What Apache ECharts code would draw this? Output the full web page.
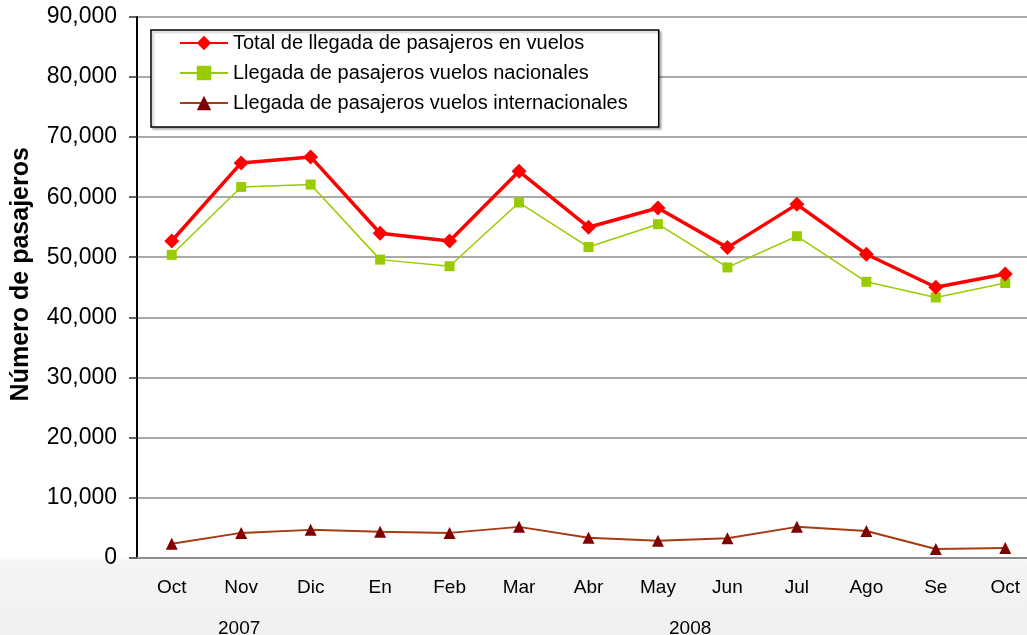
<!DOCTYPE html>
<html>
<head>
<meta charset="utf-8">
<title>Llegada de pasajeros</title>
<script src="https://cdn.jsdelivr.net/npm/echarts@6/dist/echarts.min.js"></script>
<style>
	html, body { margin: 0; padding: 0; }
	#chart { width: 1027px; height: 635px; }
</style>
</head>
<body>
<div id="chart"></div>
<script>
// datos
const meses = ['Oct', 'Nov', 'Dic', 'En', 'Feb', 'Mar', 'Abr', 'May', 'Jun', 'Jul', 'Ago', 'Se', 'Oct']
const anios = ['2007', '2008']
const total = [52700, 65700, 66700, 54000, 52700, 64300, 55000, 58200, 51600, 58800, 50500, 45000, 47200]
const nacionales = [50400, 61700, 62100, 49600, 48500, 59100, 51700, 55500, 48300, 53500, 45900, 43300, 45700]
const internacionales = [2300, 4100, 4600, 4300, 4100, 5100, 3300, 2800, 3200, 5100, 4400, 1400, 1600]

const nombres = [
	'Total de llegada de pasajeros en vuelos',
	'Llegada de pasajeros vuelos nacionales',
	'Llegada de pasajeros vuelos internacionales'
]

const fuente = 'Liberation Sans, Arial, sans-serif'

let myChart = echarts.init(document.getElementById('chart'))

let option = {
	backgroundColor: {
		type: 'linear', x: 0, y: 0, x2: 0, y2: 1,
		colorStops: [
			{ offset: 0, color: '#ffffff' },
			{ offset: 0.876, color: '#ffffff' },
			{ offset: 0.885, color: '#f3f4f5' },
			{ offset: 1, color: '#eef0f1' }
		]
	},
	animation: false,
	textStyle: { fontFamily: fuente },
	legend: {
		orient: 'vertical',
		left: 151,
		top: 30,
		padding: [3, 31, 14, 28],
		itemGap: 10,
		itemWidth: 48,
		itemHeight: 18,
		backgroundColor: '#fff',
		borderColor: '#000',
		borderWidth: 1.5,
		shadowColor: 'rgba(0,0,0,0.25)',
		shadowOffsetX: 2,
		shadowOffsetY: 2,
		shadowBlur: 2,
		textStyle: { fontSize: 20, color: '#000', fontFamily: fuente },
		data: nombres
	},
	grid: {
		left: 137,
		right: -13,
		top: 17,
		bottom: 635 - 557.5,
		outerBoundsMode: 'none',
		backgroundColor: '#fff',
		show: true,
		borderWidth: 0
	},
	xAxis: {
		type: 'category',
		data: meses,
		boundaryGap: true,
		axisLine: { lineStyle: { color: '#8c8c8c', width: 2 } },
		axisTick: { show: false },
		axisLabel: { fontSize: 19, color: '#000', margin: 21, fontFamily: fuente }
	},
	yAxis: {
		type: 'value',
		min: 0,
		max: 90000,
		interval: 10000,
		name: 'Número de pasajeros',
		nameLocation: 'middle',
		nameRotate: 90,
		nameGap: 103,
		nameTextStyle: { fontSize: 25, fontWeight: 'bold', color: '#000', fontFamily: fuente, padding: [0, 0, 0, 26] },
		axisLine: { show: true, lineStyle: { color: '#000', width: 2 } },
		axisTick: { show: true, inside: false, length: 8, lineStyle: { color: '#333', width: 1.5 } },
		axisLabel: {
			fontSize: 23, color: '#000', margin: 20, fontFamily: fuente,
			padding: [7, 0, 0, 0],
			formatter: v => v.toLocaleString('en-US')
		},
		splitLine: { lineStyle: { color: '#8c8c8c', width: 1.5 } }
	},
	graphic: [
		{ type: 'text', left: 241 - 23, top: 619, style: { text: anios[0], fontSize: 19, fill: '#000', fontFamily: fuente } },
		{ type: 'text', left: 692 - 23, top: 619, style: { text: anios[1], fontSize: 19, fill: '#000', fontFamily: fuente } }
	],
	series: [
		{
			name: nombres[0],
			type: 'line',
			data: total,
			symbol: 'diamond',
			symbolSize: 15,
			z: 4,
			lineStyle: { color: '#ff0000', width: 3.5 },
			itemStyle: { color: '#ff0000' }
		},
		{
			name: nombres[1],
			type: 'line',
			data: nacionales,
			symbol: 'rect',
			symbolSize: 10,
			z: 3,
			lineStyle: { color: '#99cc00', width: 1.5 },
			itemStyle: { color: '#99cc00' }
		},
		{
			name: nombres[2],
			type: 'line',
			data: internacionales,
			symbol: 'triangle',
			symbolSize: 12,
			z: 2,
			lineStyle: { color: '#a63a10', width: 2 },
			itemStyle: { color: '#800000' }
		}
	]
}

myChart.setOption(option)
</script>
</body>
</html>
